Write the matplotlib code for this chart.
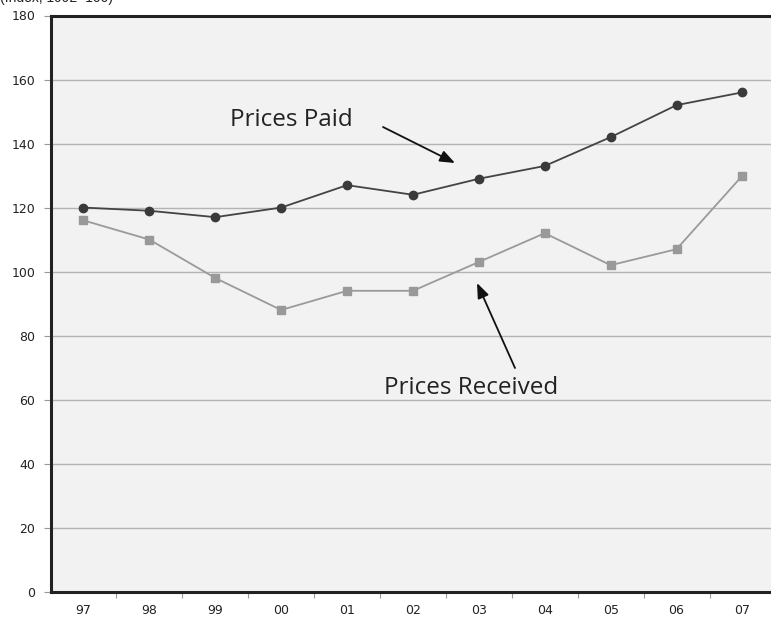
import matplotlib
matplotlib.use("Agg")
import matplotlib.pyplot as plt
import numpy as np

years = ["97", "98", "99", "00", "01", "02", "03", "04", "05", "06", "07"]
prices_paid = [120, 119, 117, 120, 127, 124, 129, 133, 142, 152, 156]
prices_received = [116, 110, 98, 88, 94, 94, 103, 112, 102, 107, 130]
y_ticks = [0, 20, 40, 60, 80, 100, 120, 140, 160, 180]

W, H = 771, 619
fig = plt.figure(figsize=(W / 100, H / 100), dpi=100)
fig.patch.set_facecolor("white")
left, right, top, bottom = 50.5, 775.4, 15.5, 591.7
ax = fig.add_axes([left / W, (H - bottom) / H, (right - left) / W, (bottom - top) / H])
ax.set_facecolor("#f2f2f2")

x = np.arange(len(years))
ax.plot(x, prices_paid, color="#444444", lw=1.3, marker="o", ms=6,
        markerfacecolor="#3a3a3a", markeredgecolor="#3a3a3a", zorder=3)
ax.plot(x, prices_received, color="#9a9a9a", lw=1.3, marker="s", ms=5.5,
        markerfacecolor="#999999", markeredgecolor="#999999", zorder=3)

ax.set_xlim(-0.5, len(years) - 0.5)
ax.set_ylim(0, 180)
ax.set_yticks(y_ticks)
ax.set_yticklabels([str(v) for v in y_ticks], fontsize=9, family="DejaVu Sans", color="#222222")
ax.yaxis.grid(True, color="#b4b4b4", lw=1.0)
ax.set_axisbelow(True)
ax.tick_params(axis="y", length=5, width=0.8, color="#999999", pad=6)

# major ticks at category boundaries, labels at centres
ax.set_xticks(np.arange(0.5, len(years) - 0.5, 1.0))
ax.set_xticklabels([])
ax.tick_params(axis="x", which="major", length=4, width=0.8, color="#999999")
ax.set_xticks(x, minor=True)
ax.set_xticklabels(years, minor=True, fontsize=9, family="DejaVu Sans", color="#222222")
ax.tick_params(axis="x", which="minor", length=0, pad=9)

for s in ["left", "bottom", "top", "right"]:
    ax.spines[s].set_color("#222222")
    ax.spines[s].set_linewidth(2.2)

def px(xp, yp):
    return (xp / W, 1 - yp / H)

fig.text(0.0, 1 - 2 / H, "(Index, 1992=100)", fontsize=10, family="Liberation Sans",
         ha="left", va="baseline", color="#222222")

fig.text(*px(291, 120), "Prices Paid", fontsize=17.5, family="Open Sans",
         ha="center", va="center", color="#222222")
fig.text(*px(471, 388), "Prices Received", fontsize=17.5, family="Open Sans",
         ha="center", va="center", color="#222222")

arrowprops = dict(arrowstyle="-|>,head_length=0.9,head_width=0.35", color="#111111", lw=1.3,
                  shrinkA=0, shrinkB=0)
ax.annotate("", xy=px(455, 163), xycoords="figure fraction",
            xytext=px(383, 127), textcoords="figure fraction", arrowprops=arrowprops)
ax.annotate("", xy=px(477, 283), xycoords="figure fraction",
            xytext=px(515, 368), textcoords="figure fraction", arrowprops=arrowprops)

fig.savefig("out.png", dpi=100)
